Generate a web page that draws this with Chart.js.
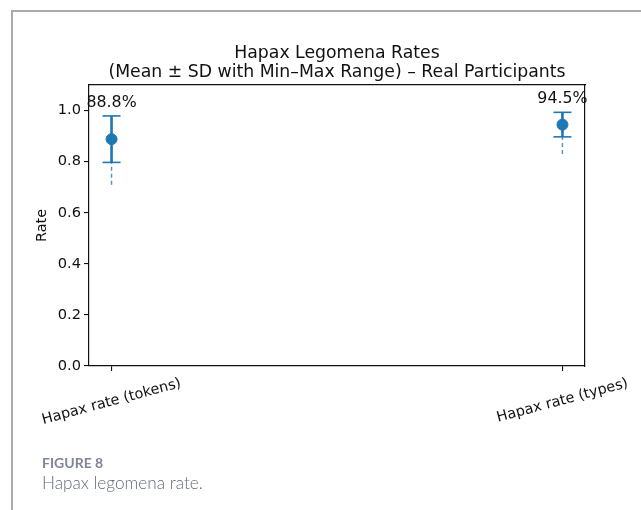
<!DOCTYPE html>
<html>
<head>
<meta charset="utf-8">
<script src="https://cdn.jsdelivr.net/npm/chart.js@4.4.1/dist/chart.umd.min.js"></script>
<style>
  html, body { margin: 0; padding: 0; background: #fff; }
  #wrap { position: relative; width: 641px; height: 510px; overflow: hidden; }
  #chartBox { position: absolute; left: 0; top: 0; width: 641px; height: 510px; }
  #frame { position: absolute; left: 11px; top: 10px; width: 640px; height: 510px;
           border-left: 2px solid #a8a9b3; border-top: 2px solid #a8a9b3; pointer-events: none; }
  .cap1 { position: absolute; left: 42px; top: 455px; font: 700 14px Lato, "Open Sans", sans-serif;
          line-height: 1.2; color: #7f8596; }
  .cap2 { position: absolute; left: 42px; top: 473px; font: 300 17.2px Lato, "Open Sans", sans-serif;
          line-height: 1.2; color: #656a7b; }
</style>
</head>
<body>
<div id="wrap">
  <div id="chartBox"><canvas id="c"></canvas></div>
  <div id="frame"></div>
  <div class="cap1">FIGURE 8</div>
  <div class="cap2">Hapax legomena rate.</div>
</div>
<script>
// Hapax legomena rates per measure: mean, standard deviation and observed range
const categories = ['Hapax rate (tokens)', 'Hapax rate (types)'];
const means = [0.888, 0.945];
const sds = [0.091, 0.048];
const mins = [0.71, 0.83];
const maxs = [0.97, 0.99];
const yTicks = [0.0, 0.2, 0.4, 0.6, 0.8, 1.0];

const BLUE = '#1f77b4';
const INK = '#111111';
const FONT = '"DejaVu Sans", sans-serif';

// Dashed min–max range lines (drawn underneath)
const rangeSets = categories.map((c, i) => ({
  label: c + ' range',
  data: [{ x: i, y: mins[i] }, { x: i, y: maxs[i] }],
  showLine: true,
  borderColor: 'rgba(31,119,180,0.8)',
  borderWidth: 1.4,
  borderDash: [4, 3],
  pointRadius: 0,
  order: 3
}));

// ±SD error bars with caps
const sdSets = categories.map((c, i) => ({
  label: c + ' SD',
  data: [{ x: i, y: means[i] - sds[i] }, { x: i, y: means[i] + sds[i] }],
  showLine: true,
  borderColor: BLUE,
  borderWidth: 2.6,
  pointStyle: 'line',
  pointRadius: 9,
  pointBorderWidth: 1.6,
  pointBorderColor: BLUE,
  order: 2
}));

// Mean markers
const meanSet = {
  label: 'Mean',
  data: categories.map((c, i) => ({ x: i, y: means[i] })),
  showLine: false,
  pointRadius: 5.5,
  pointBorderWidth: 1,
  pointBackgroundColor: BLUE,
  pointBorderColor: BLUE,
  order: 1
};

// Percent labels above each error bar
const valueLabels = {
  id: 'valueLabels',
  afterDatasetsDraw(chart) {
    const { ctx, scales: { x, y } } = chart;
    ctx.save();
    ctx.font = '15.8px ' + FONT;
    ctx.fillStyle = INK;
    ctx.textAlign = 'center';
    ctx.textBaseline = 'alphabetic';
    means.forEach((m, i) => {
      ctx.fillText((m * 100).toFixed(1) + '%', x.getPixelForValue(i), y.getPixelForValue(m + sds[i]) - 9);
    });
    ctx.restore();
  }
};

// Rotated category labels, centred under their ticks
const categoryLabels = {
  id: 'categoryLabels',
  afterDraw(chart) {
    const { ctx, scales: { x } } = chart;
    const ang = 15 * Math.PI / 180;
    ctx.save();
    ctx.font = '14.4px ' + FONT;
    ctx.fillStyle = INK;
    ctx.textAlign = 'center';
    ctx.textBaseline = 'middle';
    categories.forEach((label, i) => {
      const w = ctx.measureText(label).width;
      const h = 17;
      const boxH = w * Math.sin(ang) + h * Math.cos(ang);
      const cx = x.getPixelForValue(i);
      const cy = x.top + 9 + boxH / 2;
      ctx.save();
      ctx.translate(cx, cy);
      ctx.rotate(-ang);
      ctx.fillText(label, 0, 0);
      ctx.restore();
    });
    ctx.restore();
  }
};

const spine = { display: true, color: INK, width: 1.2 };

new Chart(document.getElementById('c'), {
  type: 'scatter',
  data: { datasets: [meanSet, ...sdSets, ...rangeSets] },
  options: {
    responsive: true,
    maintainAspectRatio: false,
    animation: false,
    layout: { padding: { left: 0, right: 56, top: 0, bottom: 0 } },
    plugins: {
      legend: { display: false },
      tooltip: { enabled: false },
      title: {
        display: true,
        fullSize: false,
        text: ['Hapax Legomena Rates', '(Mean ± SD with Min–Max Range) – Real Participants'],
        color: INK,
        font: { family: FONT, size: 17.3, weight: 'normal', lineHeight: 19 / 17.3 },
        padding: { top: 44, bottom: 3 }
      }
    },
    scales: {
      x: {
        type: 'linear',
        position: 'bottom',
        min: -0.05,
        max: 1.05,
        afterBuildTicks: s => { s.ticks = categories.map((c, i) => ({ value: i })); },
        afterFit: s => { s.height = 144; },
        ticks: { display: false },
        grid: { display: true, drawOnChartArea: false, drawTicks: true, tickLength: 5, color: INK, lineWidth: 1.1 },
        border: spine
      },
      xTop: {
        type: 'linear',
        position: 'top',
        min: -0.05,
        max: 1.05,
        afterFit: s => { s.height = 0; },
        ticks: { display: false },
        grid: { display: true, drawOnChartArea: false, drawTicks: false },
        border: spine
      },
      y: {
        type: 'linear',
        position: 'left',
        min: 0,
        max: 1.1,
        afterBuildTicks: s => { s.ticks = yTicks.map(v => ({ value: v })); },
        afterFit: s => { s.width = 89; },
        ticks: {
          color: INK,
          padding: 3,
          font: { family: FONT, size: 14.6 },
          callback: v => Number(v).toFixed(1)
        },
        grid: { display: true, drawOnChartArea: false, drawTicks: true, tickLength: 5, color: INK, lineWidth: 1.1 },
        border: spine,
        title: {
          display: true,
          text: 'Rate',
          color: INK,
          font: { family: FONT, size: 14.4 },
          padding: { top: 34, bottom: 0 }
        }
      },
      yRight: {
        type: 'linear',
        position: 'right',
        min: 0,
        max: 1.1,
        afterFit: s => { s.width = 0; },
        ticks: { display: false },
        grid: { display: true, drawOnChartArea: false, drawTicks: false },
        border: spine
      }
    }
  },
  plugins: [valueLabels, categoryLabels]
});
</script>
</body>
</html>
